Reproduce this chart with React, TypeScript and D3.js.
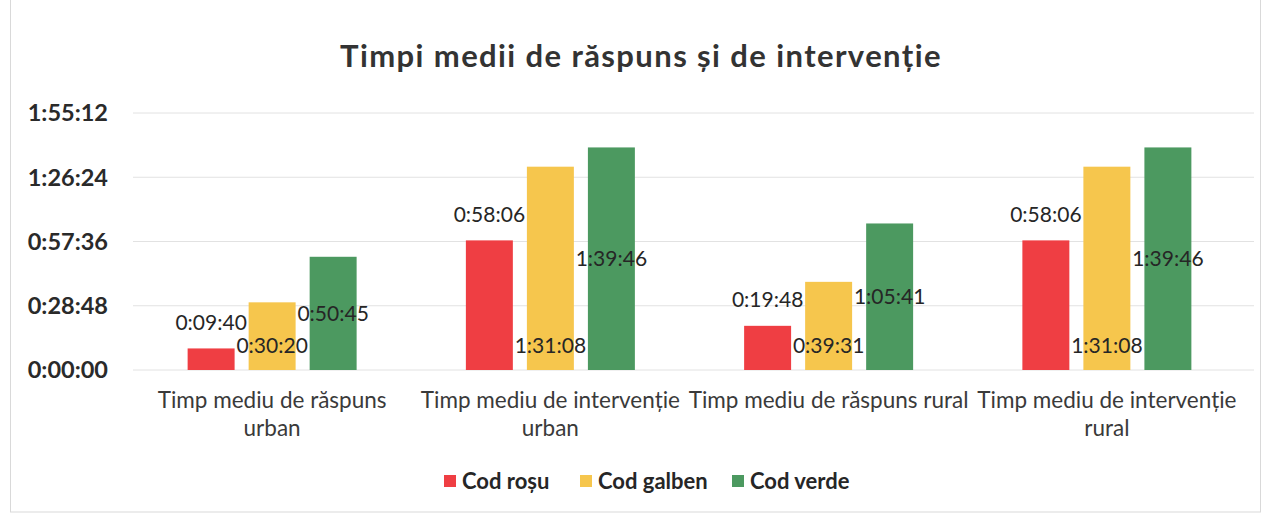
import React, { useEffect, useRef } from 'react';
import * as d3 from 'd3';

// categories (x axis), split into lines as in the original
const categories = [
  'Timp mediu de răspuns urban',
  'Timp mediu de intervenție urban',
  'Timp mediu de răspuns rural',
  'Timp mediu de intervenție rural',
];
const categoryLines = [
  ['Timp mediu de răspuns', 'urban'],
  ['Timp mediu de intervenție', 'urban'],
  ['Timp mediu de răspuns rural'],
  ['Timp mediu de intervenție', 'rural'],
];

const seriesNames = ['Cod roșu', 'Cod galben', 'Cod verde'];

// values in seconds (h:mm:ss)
const codRosu = [9 * 60 + 40, 58 * 60 + 6, 19 * 60 + 48, 58 * 60 + 6];
const codGalben = [30 * 60 + 20, 3600 + 31 * 60 + 8, 39 * 60 + 31, 3600 + 31 * 60 + 8];
const codVerde = [50 * 60 + 45, 3600 + 39 * 60 + 46, 3600 + 5 * 60 + 41, 3600 + 39 * 60 + 46];

// y ticks: 0:00:00 .. 1:55:12, step 0:28:48
const yTicks = [0, 1728, 3456, 5184, 6912];

const fmt = (s: number) => {
  const h = Math.floor(s / 3600);
  const m = Math.floor((s % 3600) / 60);
  const sec = s % 60;
  return `${h}:${String(m).padStart(2, '0')}:${String(sec).padStart(2, '0')}`;
};

const App = () => {
  const svgRef = useRef<SVGSVGElement>(null);

  useEffect(() => {
    const width = 1262;
    const height = 513;
    const margin = { top: 113, right: 16, bottom: 143, left: 133 };
    const font = 'Lato, "Open Sans", sans-serif';
    const colors = ['#ef3e43', '#f6c64d', '#4c9960'];
    const textColor = '#3a3a3a';

    const svg = d3.select(svgRef.current);
    svg.selectAll('*').remove();
    svg.attr('width', width).attr('height', height);

    svg.append('rect')
      .attr('x', 10.5).attr('y', -1)
      .attr('width', width - 12).attr('height', height)
      .attr('fill', '#fff')
      .attr('stroke', '#d9d9d9');

    const x = d3.scaleBand()
      .domain(categories)
      .range([margin.left, width - margin.right])
      .paddingInner(0)
      .paddingOuter(0);

    const inner = 169;
    const xs = d3.scaleBand()
      .domain(seriesNames)
      .range([0, inner])
      .paddingInner(0.23);

    const y = d3.scaleLinear()
      .domain([0, 6912])
      .range([height - margin.bottom, margin.top]);

    // title
    svg.append('text')
      .attr('x', 641).attr('y', 67)
      .attr('text-anchor', 'middle')
      .style('font-family', font)
      .style('font-weight', 700)
      .style('font-size', '31px')
      .style('letter-spacing', '1.4px')
      .style('fill', '#333')
      .text('Timpi medii de răspuns și de intervenție');

    // gridlines
    svg.append('g')
      .selectAll('line')
      .data(yTicks)
      .enter()
      .append('line')
      .attr('x1', margin.left).attr('x2', width - 8)
      .attr('y1', d => y(d)).attr('y2', d => y(d))
      .attr('stroke', '#e2e2e2')
      .attr('stroke-width', 1);

    // y axis labels
    svg.append('g')
      .selectAll('text')
      .data(yTicks)
      .enter()
      .append('text')
      .attr('x', 108)
      .attr('y', d => y(d))
      .attr('dy', '0.36em')
      .attr('text-anchor', 'end')
      .style('font-family', font)
      .style('font-weight', 700)
      .style('font-size', '23.5px')
      .style('fill', '#2a2a2a')
      .text(d => fmt(d));

    const series = [codRosu, codGalben, codVerde];
    const groups = svg.append('g');

    categories.forEach((cat, ci) => {
      const g = groups.append('g')
        .attr('transform', `translate(${x(cat)! + (x.bandwidth() - inner) / 2},0)`);
      series.forEach((vals, si) => {
        const v = vals[ci];
        const bx = xs(seriesNames[si])!;
        const bw = xs.bandwidth();
        g.append('rect')
          .attr('x', bx)
          .attr('y', y(v))
          .attr('width', bw)
          .attr('height', y(0) - y(v))
          .attr('fill', colors[si]);

        // label positions: red outside end, yellow inside base, green center
        let ly;
        if (si === 0) ly = y(v) - 26;
        else if (si === 1) ly = y(0) - 25;
        else ly = (y(v) + y(0)) / 2;
        g.append('text')
          .attr('x', bx + bw / 2)
          .attr('y', ly)
          .attr('dy', '0.36em')
          .attr('text-anchor', 'middle')
          .style('font-family', font)
          .style('font-size', '21px')
          .style('fill', '#262626')
          .text(fmt(v));
      });

      // category label
      const t = svg.append('text')
        .attr('x', x(cat)! + x.bandwidth() / 2)
        .attr('y', 408)
        .attr('text-anchor', 'middle')
        .style('font-family', font)
        .style('font-size', '22.5px')
        .style('fill', textColor);
      categoryLines[ci].forEach((line, li) => {
        t.append('tspan')
          .attr('x', x(cat)! + x.bandwidth() / 2)
          .attr('dy', li === 0 ? 0 : 28)
          .text(line);
      });
    });

    // legend
    const legendX = [444, 580, 732];
    const legend = svg.append('g');
    seriesNames.forEach((name, i) => {
      legend.append('rect')
        .attr('x', legendX[i]).attr('y', 475)
        .attr('width', 12).attr('height', 12)
        .attr('fill', colors[i]);
      legend.append('text')
        .attr('x', legendX[i] + 18).attr('y', 481)
        .attr('dy', '0.36em')
        .style('font-family', font)
        .style('font-weight', 700)
        .style('font-size', '22px')
        .style('fill', '#262626')
        .text(name);
    });
  }, []);

  return (
    <div style={{ position: 'absolute', left: 0, top: 0 }}>
      <svg ref={svgRef} style={{ display: 'block' }} />
    </div>
  );
};

export default App;
